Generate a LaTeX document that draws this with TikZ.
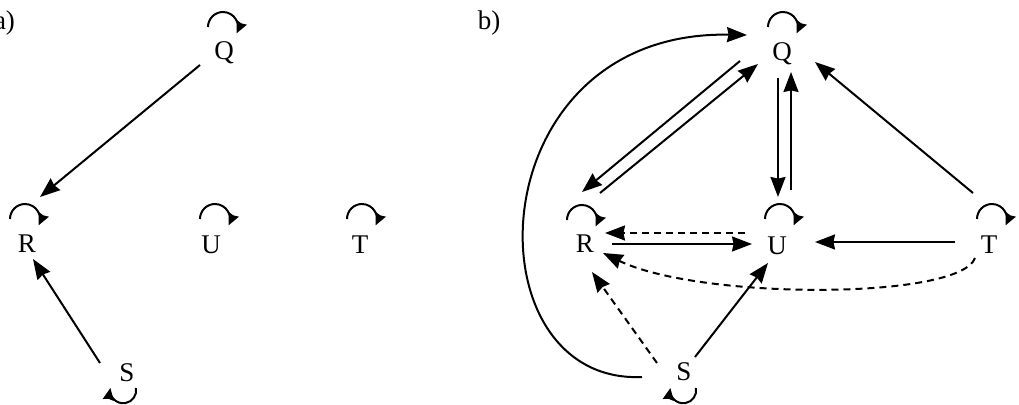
\documentclass[tikz,border=0pt]{standalone}
\usepackage{fontspec}
\setmainfont{Liberation Serif}
\usetikzlibrary{arrows.meta}

\begin{document}
\begin{tikzpicture}[x=0.5pt,y=0.5pt,>={Stealth[length=10pt,width=7.5pt,inset=0.8pt]},font=\fontsize{13.5}{15}\selectfont,
  vertex/.style={inner sep=0pt},
  link/.style={->,line width=1pt},
  dlink/.style={link,dash pattern=on 3.5pt off 2.5pt},
  selfloop/.style={-{Stealth[length=6pt,width=5.5pt,inset=0.5pt]},line width=1pt}]
\useasboundingbox (0,0) rectangle (1019,-405);
% a)
\node[vertex] (la) at (4.5,-23) {a)};
\node[vertex] (Qa) at (224,-53) {Q};
\node[vertex] (Ra) at (27,-244) {R};
\node[vertex] (Ua) at (211,-245) {U};
\node[vertex] (Ta) at (360,-245) {T};
\node[vertex] (Sa) at (127,-373) {S};
\draw[selfloop] ([shift={(-16,26)}]Qa.center) arc[start angle=180,end angle=-25,radius=15];
\draw[selfloop] ([shift={(-17,25)}]Ra.center) arc[start angle=180,end angle=-25,radius=15];
\draw[selfloop] ([shift={(-11,26)}]Ua.center) arc[start angle=180,end angle=-25,radius=15];
\draw[selfloop] ([shift={(-13,26)}]Ta.center) arc[start angle=180,end angle=-25,radius=15];
\draw[selfloop] ([shift={(9,-15)}]Sa.center) arc[start angle=10,end angle=-190,radius=13];
\draw[link] ([shift={(-24,-12)}]Qa.center) -- ([shift={(13,47)}]Ra.center);
\draw[link] ([shift={(-27,10)}]Sa.center) -- ([shift={(6,-15)}]Ra.center);
% b)
\node[vertex] (lb) at (489,-23) {b)};
\node[vertex] (Qb) at (782,-54) {Q};
\node[vertex] (Rb) at (585,-244) {R};
\node[vertex] (Ub) at (777,-246) {U};
\node[vertex] (Tb) at (989,-245) {T};
\node[vertex] (Sb) at (684,-372) {S};
\draw[selfloop] ([shift={(-14,27)}]Qb.center) arc[start angle=180,end angle=-25,radius=15];
\draw[selfloop] ([shift={(-18,24)}]Rb.center) arc[start angle=180,end angle=-25,radius=15];
\draw[selfloop] ([shift={(-12,27)}]Ub.center) arc[start angle=180,end angle=-25,radius=15];
\draw[selfloop] ([shift={(-12,26)}]Tb.center) arc[start angle=180,end angle=-25,radius=15];
\draw[selfloop] ([shift={(12,-16)}]Sb.center) arc[start angle=10,end angle=-190,radius=13];
\draw[link] ([shift={(-42,-7)}]Qb.center) -- ([shift={(-3,52)}]Rb.center);
\draw[link] ([shift={(15,51)}]Rb.center) -- ([shift={(-24,-10)}]Qb.center);
\draw[link] ([shift={(-4,-24)}]Qb.center) -- ([shift={(1,49)}]Ub.center);
\draw[link] ([shift={(14,56)}]Ub.center) -- ([shift={(9,-18)}]Qb.center);
\draw[link] ([shift={(-16,52)}]Tb.center) -- ([shift={(33,-8)}]Qb.center);
\draw[link] ([shift={(27,0)}]Rb.center) -- ([shift={(-25,2)}]Ub.center);
\draw[dlink] ([shift={(-32,13)}]Ub.center) -- ([shift={(20,11)}]Rb.center);
\draw[link] ([shift={(-34,3)}]Tb.center) -- ([shift={(38,4)}]Ub.center);
\draw[dlink] ([shift={(-14,-13)}]Tb.center) .. controls +(-15,-42) and +(97,-47) .. ([shift={(18,-9)}]Rb.center);
\draw[dlink] ([shift={(-27,9)}]Sb.center) -- ([shift={(7,-28)}]Rb.center);
\draw[link] ([shift={(11,15)}]Sb.center) -- ([shift={(-9,-17)}]Ub.center);
\draw[link] ([shift={(-42,-5)}]Sb.center) .. controls +(-175,-8) and +(-272,5) .. ([shift={(-35,19)}]Qb.center);
\end{tikzpicture}
\end{document}
